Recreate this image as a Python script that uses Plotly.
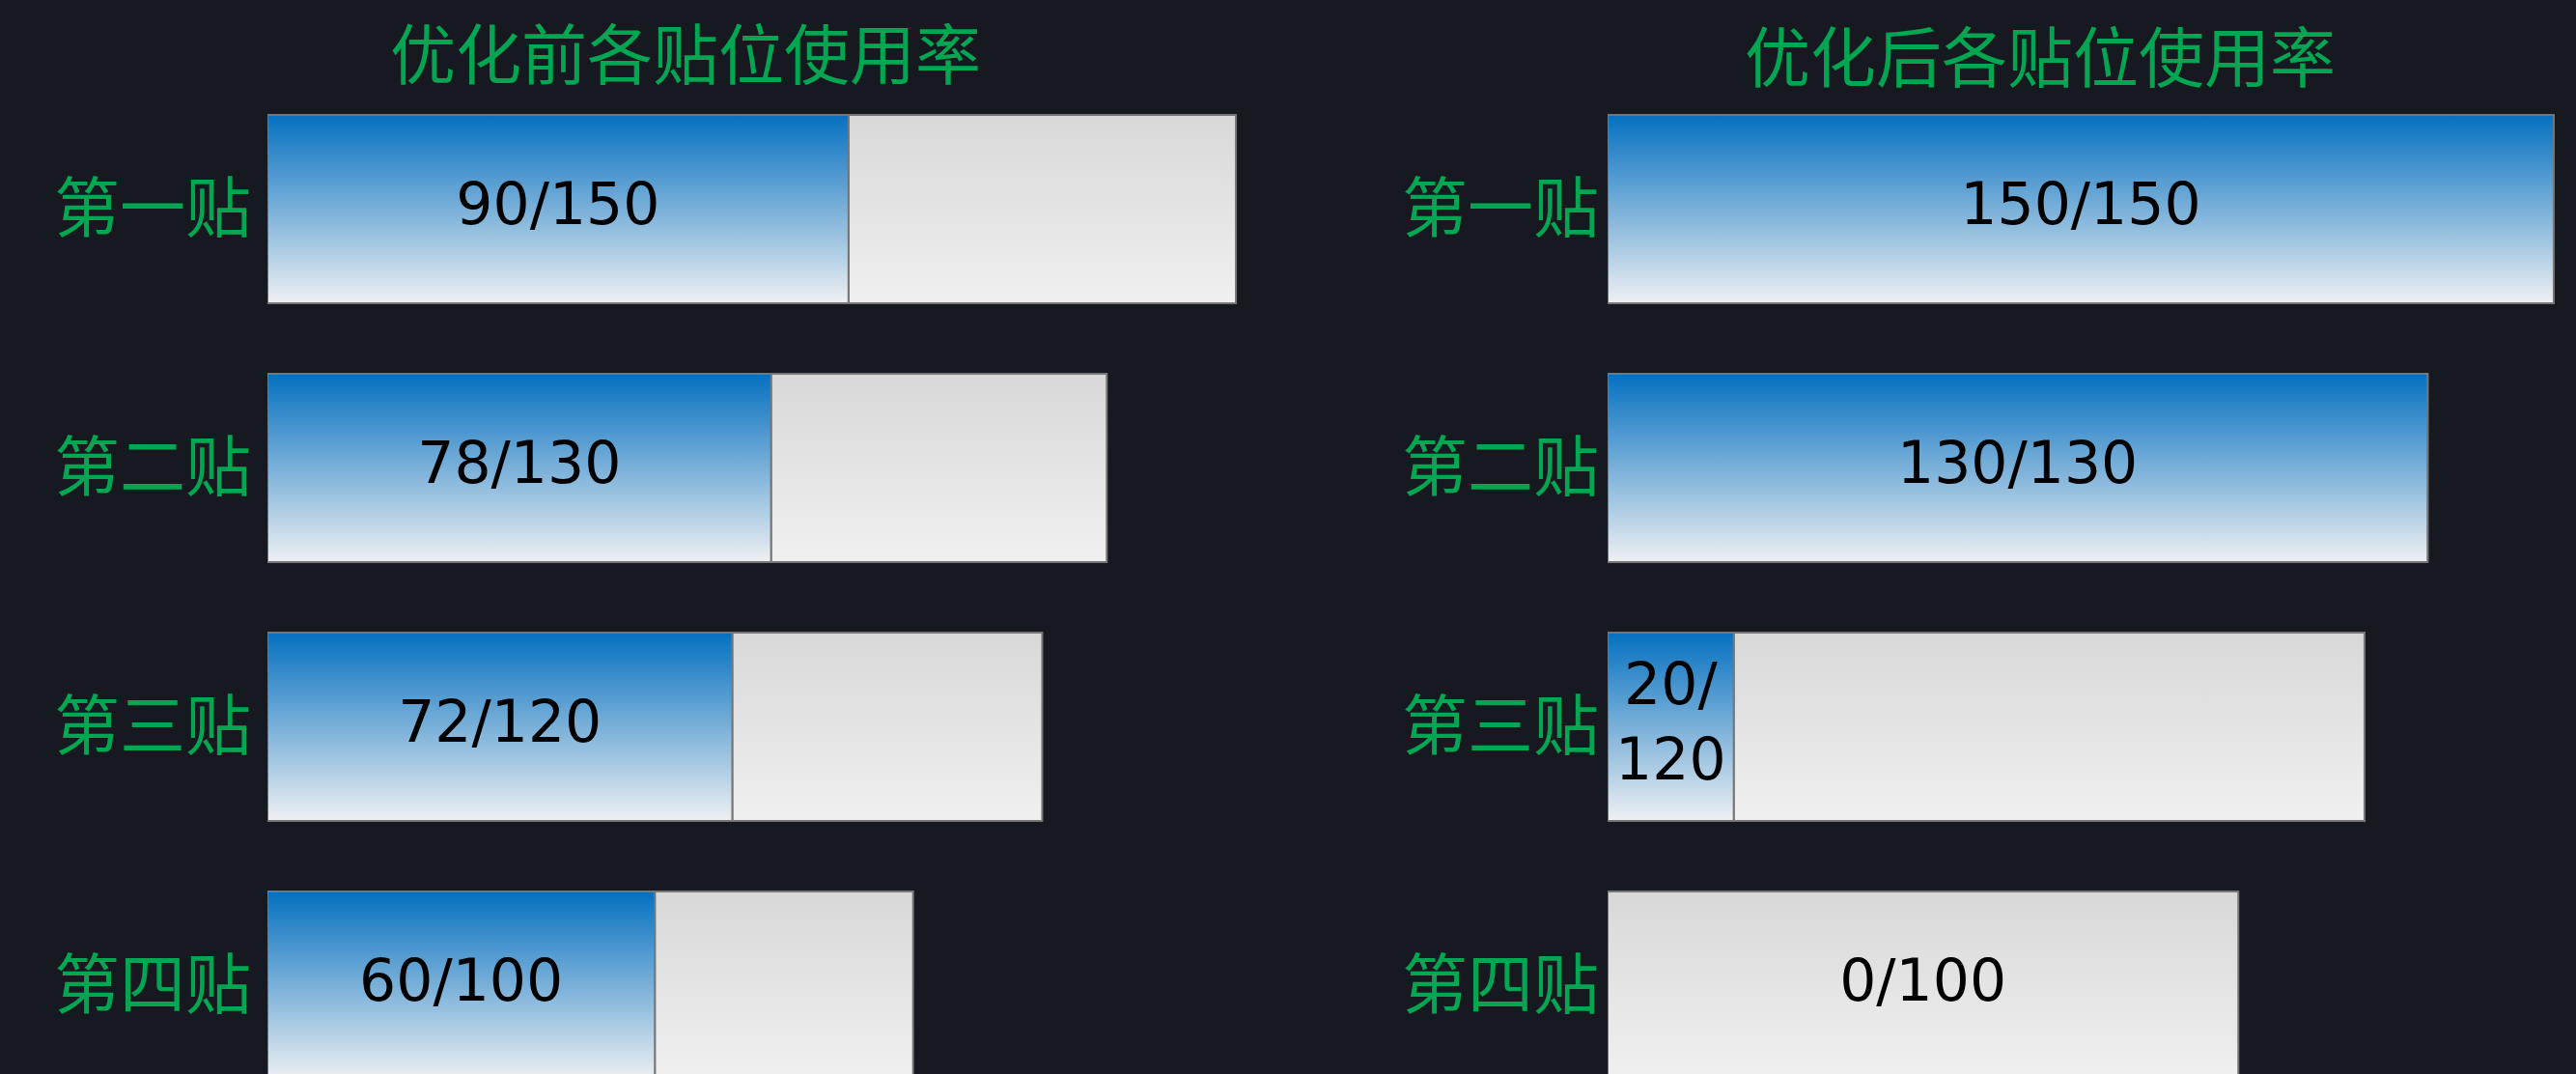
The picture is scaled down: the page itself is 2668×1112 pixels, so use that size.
import plotly.graph_objects as go

# ---- data ----
categories = ["第一贴", "第二贴", "第三贴", "第四贴"]
capacity_before = [150, 130, 120, 100]
used_before = [90, 78, 72, 60]
capacity_after = [150, 130, 120, 100]
used_after = [150, 130, 20, 0]
panel_titles = ["优化前各贴位使用率", "优化后各贴位使用率"]

# ---- style ----
BG = "#171920"
GREEN = "#00A651"
BLUE_GRAD = [[0, "#0570C0"], [1, "#EEF0F2"]]
GRAY_GRAD = [[0, "#D8D8D8"], [1, "#F0F0F0"]]
EDGE = "#767676"
BAR_W = 0.728
W, H = 2668, 1112
CJK = "Noto Sans CJK SC"
NUM_FONT = "DejaVu Sans"

panels = [
    dict(used=used_before, cap=capacity_before, px0=277, px1=1300, ppu=6.687,
         xa="x", ya="y", title_x=710, title_y=52, standoff=16),
    dict(used=used_after, cap=capacity_after, px0=1665, px1=2662, ppu=6.533,
         xa="x2", ya="y2", title_x=2113, title_y=55, standoff=8),
]

fig = go.Figure()

def rect(fig, x0, x1, k, grad, xa, ya):
    top, bot = k - BAR_W / 2, k + BAR_W / 2
    fig.add_trace(go.Scatter(
        x=[x0, x1, x1, x0, x0], y=[top, top, bot, bot, top],
        mode="lines", fill="toself",
        fillgradient=dict(type="vertical", colorscale=grad, start=top, stop=bot),
        line=dict(color=EDGE, width=2),
        xaxis=xa, yaxis=ya, hoverinfo="skip", showlegend=False))

for p in panels:
    xs, ys, texts = [], [], []
    for k, (u, c) in enumerate(zip(p["used"], p["cap"])):
        rect(fig, u, c, k, GRAY_GRAD, p["xa"], p["ya"])
        if u > 0:
            rect(fig, 0, u, k, BLUE_GRAD, p["xa"], p["ya"])
        label = f"{u}/<br>{c}" if 0 < u / c < 0.25 else f"{u}/{c}"
        xs.append(u / 2 if u > 0 else c / 2)
        ys.append(k)
        texts.append(label)
    fig.add_trace(go.Scatter(
        x=xs, y=ys, text=texts, mode="text",
        textfont=dict(family=NUM_FONT, size=60, color="#000000"),
        xaxis=p["xa"], yaxis=p["ya"], hoverinfo="skip", showlegend=False))

k_top = -216.5 / 268
k_bot = (H - 216.5) / 268

layout = dict(
    width=W, height=H,
    margin=dict(l=0, r=0, t=0, b=0),
    paper_bgcolor=BG, plot_bgcolor=BG,
    showlegend=False,
    annotations=[],
)
for i, p in enumerate(panels):
    sfx = "" if i == 0 else "2"
    layout["xaxis" + sfx] = dict(
        domain=[p["px0"] / W, p["px1"] / W],
        range=[0, (p["px1"] - p["px0"]) / p["ppu"]],
        showgrid=False, zeroline=False, showticklabels=False, showline=False,
        anchor="y" + sfx)
    layout["yaxis" + sfx] = dict(
        domain=[0, 1], range=[k_bot, k_top],
        tickmode="array", tickvals=list(range(len(categories))), ticktext=categories,
        tickfont=dict(family=CJK, size=68, color=GREEN),
        ticks="", ticklabelstandoff=p["standoff"],
        showgrid=False, zeroline=False, showline=False,
        anchor="x" + sfx)
    layout["annotations"].append(dict(
        text=panel_titles[i], x=p["title_x"] / W, y=1 - p["title_y"] / H,
        xref="paper", yref="paper", xanchor="center", yanchor="middle",
        showarrow=False, font=dict(family=CJK, size=68, color=GREEN)))

fig.update_layout(**layout)
fig.write_html("out.html")
